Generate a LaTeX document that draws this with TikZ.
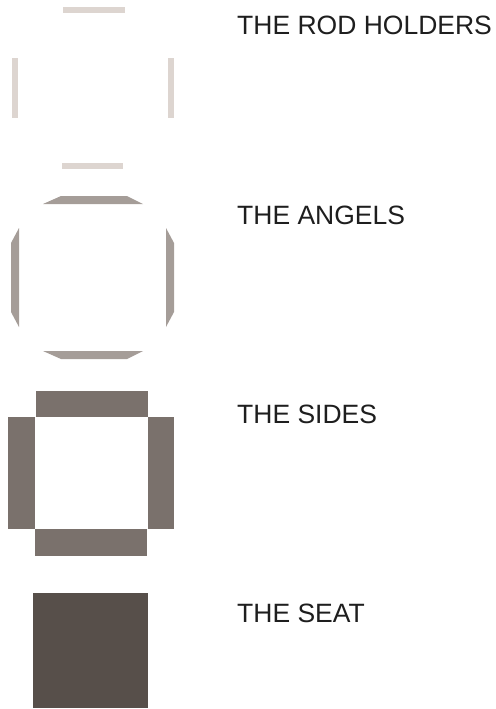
\documentclass[tikz,border=0pt]{standalone}
\usepackage{fontspec}
\setmainfont{Liberation Sans}
\usepackage{xcolor}
\usepackage{tikz}
\definecolor{RodTone}{HTML}{DDD5D0}
\definecolor{AngelTone}{HTML}{A59D98}
\definecolor{SideTone}{HTML}{7A716C}
\definecolor{SeatTone}{HTML}{574F4A}
\definecolor{LabelInk}{HTML}{1E1E1E}
\tikzset{
  part label/.style={
    anchor=base west,
    inner sep=0pt,
    font=\fontsize{26.5}{30}\selectfont,
    text=LabelInk
  }
}

\begin{document}
\begin{tikzpicture}[x=1pt, y=-1pt]
  \useasboundingbox (0,0) rectangle (495,709);

  % rod holders
  \fill[RodTone] (63,7) rectangle (125,13);
  \fill[RodTone] (62,163) rectangle (123,169);
  \fill[RodTone] (12,58) rectangle (18,118);
  \fill[RodTone] (168,58) rectangle (174,118);
  \node[part label] (rodlbl) at (237,35) {THE ROD HOLDERS};

  % angels
  \fill[AngelTone] (61,196) -- (127,196) -- (143,204) -- (43,204) -- cycle;
  \fill[AngelTone] (43,351) -- (143,351) -- (127,359) -- (61,359) -- cycle;
  \fill[AngelTone] (11,243) -- (19,228) -- (19,327) -- (11,312) -- cycle;
  \fill[AngelTone] (174,243) -- (166,228) -- (166,327) -- (174,312) -- cycle;
  \node[part label] (angellbl) at (237,224) {THE ANGELS};

  % sides
  \fill[SideTone] (36,391) rectangle (148,417);
  \fill[SideTone] (35,529) rectangle (147,556);
  \fill[SideTone] (8,417) rectangle (35,529);
  \fill[SideTone] (148,417) rectangle (174,529);
  \node[part label] (sidelbl) at (237,423) {THE SIDES};

  % seat
  \fill[SeatTone] (33,593) rectangle (148,708);
  \node[part label] (seatlbl) at (237,622) {THE SEAT};
\end{tikzpicture}
\end{document}
